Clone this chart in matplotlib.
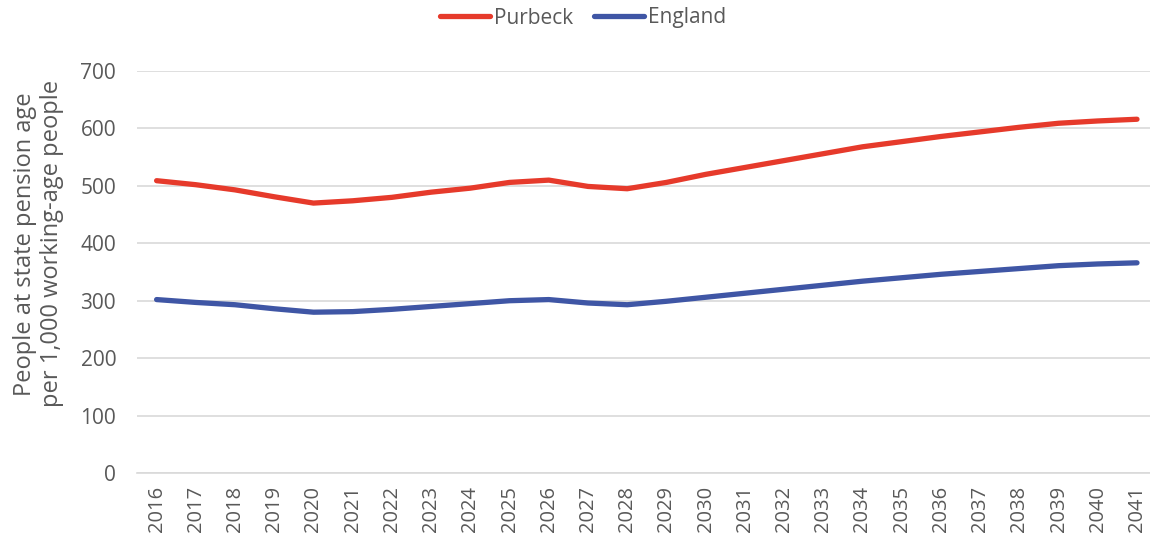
import matplotlib
matplotlib.use("Agg")
import matplotlib.pyplot as plt

years = [str(y) for y in range(2016, 2042)]
purbeck = [509, 502, 493, 481, 470, 474, 480, 489, 496, 506, 510, 499, 495, 506,
           520, 532, 544, 556, 568, 577, 586, 594, 602, 609, 613, 616]
england = [302, 297, 293, 286, 280, 281, 285, 290, 295, 300, 302, 296, 293, 299,
           306, 313, 320, 327, 334, 340, 346, 351, 356, 361, 364, 366]
yticks = [0, 100, 200, 300, 400, 500, 600, 700]

plt.rcParams['font.family'] = ['Open Sans', 'DejaVu Sans']
txt = '#595959'

fig = plt.figure(figsize=(11.5, 5.4), dpi=100)
ax = fig.add_axes([137/1150, (540-473)/540, (1156.6-137)/1150, (473-71)/540])

x = list(range(len(years)))
ax.plot(x, purbeck, color='#E63A2B', lw=3.8, solid_capstyle='round', label='Purbeck')
ax.plot(x, england, color='#3F56A5', lw=3.8, solid_capstyle='round', label='England')

ax.set_xlim(-0.5, len(years) - 0.5)
ax.set_ylim(0, 700)
ax.set_yticks(yticks)
ax.set_yticklabels([str(v) for v in yticks], fontsize=15, color=txt)
ax.set_xticks(x)
ax.set_xticklabels(years, rotation=90, fontsize=14.5, color=txt)
ax.tick_params(axis='y', length=0, pad=15)
ax.tick_params(axis='x', length=0, pad=9)
ax.grid(axis='y', color='#D9D9D9', lw=1.2)
ax.set_axisbelow(True)
for s in ['top', 'right', 'left']:
    ax.spines[s].set_visible(False)
ax.spines['bottom'].set_color('#D9D9D9')
ax.spines['bottom'].set_linewidth(1.2)

ax.set_ylabel('People at state pension age\nper 1,000 working-age people', fontsize=17, color=txt,
              linespacing=1.15)
ax.yaxis.set_label_coords(-0.072, 0.57)

fig.legend(loc='center', bbox_to_anchor=(583/1150, 1 - 18/540), ncol=2, frameon=False,
           fontsize=15, labelcolor=txt, handlelength=2.4, columnspacing=1.0, handletextpad=0.2)

fig.savefig('out.png', dpi=100)
